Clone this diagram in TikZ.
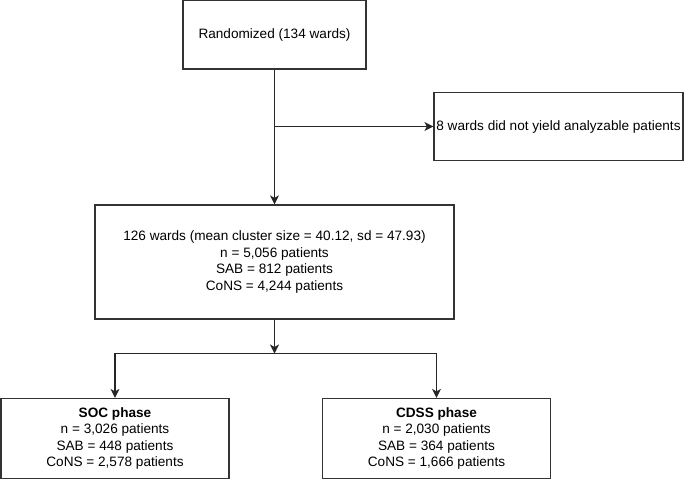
\documentclass[tikz,border=0pt]{standalone}
\usepackage{fontspec}
\setmainfont{Liberation Sans}
\usetikzlibrary{arrows.meta}

\begin{document}
\begin{tikzpicture}%
        [x=1pt,
        y=-1pt,
        line width=1.2pt,
        box/.style={draw=black!80, rectangle, inner sep=2pt, align=center,
                    font=\fontsize{13.6}{16.4}\selectfont},
        link/.style={draw=black!85, line width=1.2pt,
                     -{Stealth[length=9pt,width=9pt,inset=2.5pt]}}]
    %
    \useasboundingbox (0,0) rectangle (685,479);
    %
    %% Drawing the boxes
    %%
    \node[box, minimum width=183pt, minimum height=69pt] (rand) at (274.5,34.5)
        {Randomized (134 wards)};
    \node[box, minimum width=249pt, minimum height=68pt] (excl) at (558.5,126.5)
        {8 wards did not yield analyzable patients};
    \node[box, minimum width=359pt, minimum height=114pt] (ward) at (274.5,262)
        {126 wards (mean cluster size = 40.12, sd = 47.93)\\
         n = 5,056 patients\\
         SAB = 812 patients\\
         CoNS = 4,244 patients};
    \node[box, minimum width=228pt, minimum height=80pt] (soc) at (115,438.5)
        {\textbf{SOC phase}\\
         n = 3,026 patients\\
         SAB = 448 patients\\
         CoNS = 2,578 patients};
    \node[box, minimum width=228pt, minimum height=80pt] (cdss) at (436.5,438.5)
        {\textbf{CDSS phase}\\
         n = 2,030 patients\\
         SAB = 364 patients\\
         CoNS = 1,666 patients};
    %%
    %% Drawing the connectors
    %%
    \coordinate (split) at (274.5,353.5);
    \draw[link] (rand) -- (ward);
    \draw[link] (rand |- excl) -- (excl);
    \draw[link] (ward) -- (split);
    \draw[link] (split) -| (soc);
    \draw[link] (split) -| (cdss);
    %%
\end{tikzpicture}
\end{document}
